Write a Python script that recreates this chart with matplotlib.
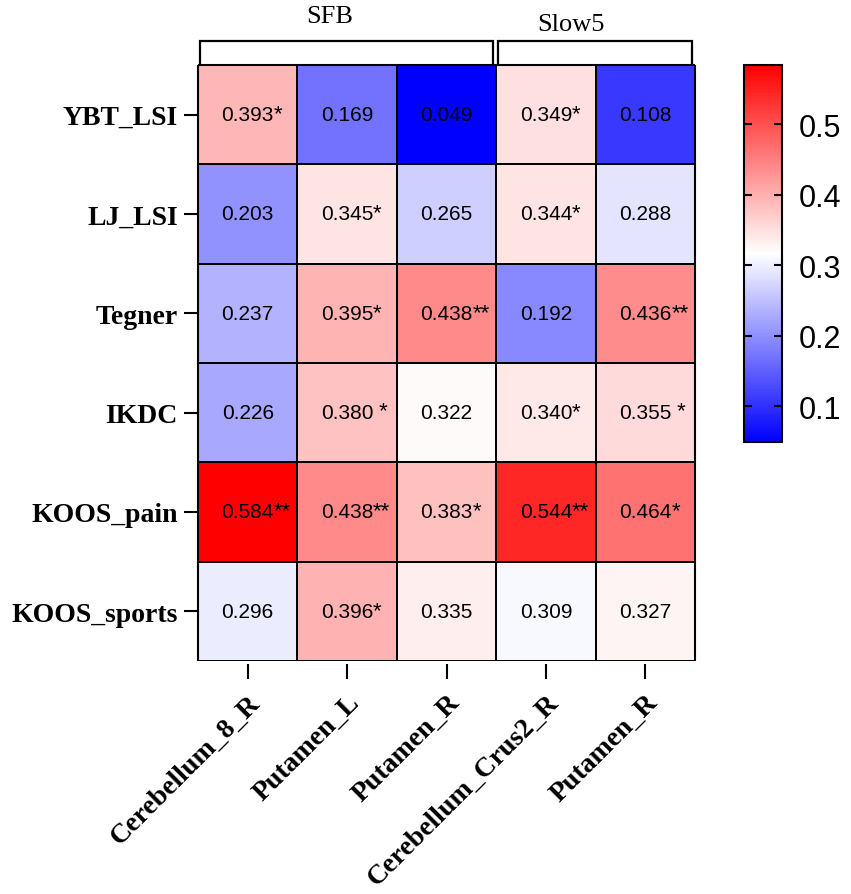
import numpy as np
import matplotlib
matplotlib.use("Agg")
import matplotlib.pyplot as plt
from matplotlib.colors import LinearSegmentedColormap
import matplotlib.transforms as mtransforms

rows = ["YBT_LSI", "LJ_LSI", "Tegner", "IKDC", "KOOS_pain", "KOOS_sports"]
cols = ["Cerebellum_8_R", "Putamen_L", "Putamen_R", "Cerebellum_Crus2_R", "Putamen_R"]
values = np.array([
    [0.393, 0.169, 0.049, 0.349, 0.108],
    [0.203, 0.345, 0.265, 0.344, 0.288],
    [0.237, 0.395, 0.438, 0.192, 0.436],
    [0.226, 0.380, 0.322, 0.340, 0.355],
    [0.584, 0.438, 0.383, 0.544, 0.464],
    [0.296, 0.396, 0.335, 0.309, 0.327],
])
stars = [
    ["*", "", "", "*", ""],
    ["", "*", "", "*", ""],
    ["", "*", "**", "", "**"],
    ["", " *", "", "*", " *"],
    ["**", "**", "*", "**", "*"],
    ["", "*", "", "", ""],
]
groups = ["SFB", "Slow5"]
group_spans = [(0, 3), (3, 5)]
cbar_ticks = [0.1, 0.2, 0.3, 0.4, 0.5]

SERIF = "Liberation Serif"
SANS = "Liberation Sans"

W, H = 851, 895
fig = plt.figure(figsize=(W / 100, H / 100), dpi=100)
ax = fig.add_axes([198 / W, (H - 662) / H, 497 / W, 596 / H])

cmap = LinearSegmentedColormap.from_list("bwr_custom", ["#0000ff", "#ffffff", "#ff0000"])
vmin, vmax = values.min(), values.max()
mesh = ax.pcolormesh(values, cmap=cmap, vmin=vmin, vmax=vmax,
                     edgecolors="black", linewidth=1.4)
ax.set_xlim(0, len(cols))
ax.set_ylim(len(rows), 0)

# spine position must be set before tick labels (it resets ticks)
ax.spines["bottom"].set_position(("outward", 2))
ax.spines["bottom"].set_visible(False)
for s in ["left", "top", "right"]:
    ax.spines[s].set_linewidth(1.5)
    ax.spines[s].set_capstyle("butt")

for i in range(len(rows)):
    for j in range(len(cols)):
        ax.text(j + 0.5, i + 0.5, f"{values[i, j]:.3f}", ha="center", va="center",
                fontsize=15, family=SANS, color="black")
        if stars[i][j]:
            ax.annotate(stars[i][j], xy=(j + 0.5, i + 0.5), xytext=(26, 1),
                        textcoords="offset pixels", ha="left", va="center",
                        fontsize=16, family=SANS, color="black")

ax.set_xticks(np.arange(len(cols)) + 0.5)
ax.set_yticks(np.arange(len(rows)) + 0.5)
ax.tick_params(axis="y", length=10, width=1.5, pad=4.5)
ax.tick_params(axis="x", length=10.5, width=1.5, pad=8)
ax.set_yticklabels(rows, fontsize=20, family=SERIF, fontweight="bold")
ax.set_xticklabels(cols, fontsize=20, family=SERIF, fontweight="bold",
                   rotation=45, ha="right", va="top", rotation_mode="anchor")

# group brackets
trans = mtransforms.blended_transform_factory(ax.transData, ax.transAxes)
y_line = 1.0403
y_end = 1.0034
label_pos = [(1.32, 1.082), (3.75, 1.0696)]
for (g, (a, b), (lx, ly)) in zip(groups, group_spans, label_pos):
    x0, x1 = a + 0.02, b - 0.03
    ax.plot([x0, x0, x1, x1], [y_end, y_line, y_line, y_end], color="black",
            linewidth=1.6, transform=trans, clip_on=False, solid_joinstyle="miter")
    ax.text(lx, ly, g, transform=trans, ha="center", va="center",
            fontsize=19, family=SERIF)

# colorbar
cax = fig.add_axes([744 / W, (H - 443) / H, 38 / W, 377 / H])
cb = fig.colorbar(mesh, cax=cax)
cb.set_ticks(cbar_ticks)
cb.set_ticklabels([f"{t:.1f}" for t in cbar_ticks])
cb.outline.set_linewidth(1.5)
cax.tick_params(direction="in", left=True, right=True, length=6, width=1.5,
                labelsize=22, pad=12)
for lab in cax.get_yticklabels():
    lab.set_family(SANS)

fig.savefig("out.png", dpi=100)
